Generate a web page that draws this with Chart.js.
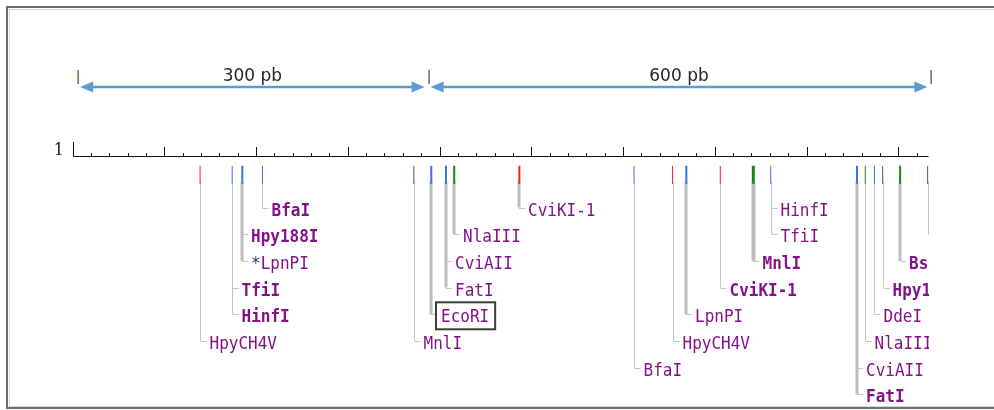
<!DOCTYPE html>
<html>
<head>
<meta charset="utf-8">
<script src="https://cdn.jsdelivr.net/npm/chart.js@4.4.0/dist/chart.umd.min.js"></script>
<style>
  html, body { margin: 0; padding: 0; background: #fff; }
  #wrap { width: 994px; height: 410px; }
</style>
</head>
<body>
<div id="wrap"><canvas id="map" width="994" height="410"></canvas></div>
<script>
// sequence / ruler (bp)
var seqLength = 933;
var minorStep = 20;
var majorStep = 100;

// size brackets above the ruler
var dimStops = [5, 387, 935];
var dimLabels = ['300 pb', '600 pb'];

// restriction sites
var sitePos   = [139, 174, 185, 207, 372, 391, 407, 416, 487, 612, 654, 669, 706, 742, 761, 855, 864, 874, 883, 902, 932];
var siteColor = ['r', 'b', 'b', 'b', 'g', 'b', 'b', 'g', 'r', 'b', 'r', 'b', 'r', 'g', 'b', 'b', 'g', 'b', 'g', 'g', 'g'];
var siteWidth = [1, 1, 2, 1, 1, 2, 2, 2, 2, 1, 1, 2, 1, 3, 1, 2, 1, 1, 1, 2, 1];
var siteEnzymes = [
  ['HpyCH4V'], ['TfiI', 'HinfI'], ['Hpy188I', '*LpnPI'], ['BfaI'],
  ['MnlI'], ['EcoRI'], ['CviAII', 'FatI'], ['NlaIII'], ['CviKI-1'],
  ['BfaI'], ['HpyCH4V'], ['LpnPI'], ['CviKI-1'], ['MnlI'], ['HinfI', 'TfiI'],
  ['CviAII', 'FatI'], ['NlaIII'], ['DdeI'], ['Hpy188III'], ['BspHI'], ['AluI']
];
var siteRows = [
  [5], [3, 4], [1, 2], [0],
  [5], [4], [2, 3], [1], [0],
  [6], [5], [4], [3], [2], [0, 1],
  [6, 7], [5], [4], [3], [2], [1]
];
var siteBold = [
  [0], [1, 1], [1, 0], [1],
  [0], [0], [0, 0], [0], [0],
  [0], [0], [0], [1], [1], [0, 0],
  [0, 1], [0], [0], [1], [1], [0]
];
var boxedEnzymes = ['EcoRI'];

var colors = { r: '#ff1a1a', b: '#3f6fe6', g: '#12881a' };
var markY = 173, markHalf = 9;
var rowTop = 209, rowGap = 26.7;

var mapPlugin = {
  id: 'mapPlugin',
  beforeDatasetsDraw: function(chart) {
    var ctx = chart.ctx, xs = chart.scales.x;
    var px = function(v) { return xs.getPixelForValue(v); };
    var crisp = function(v) { return Math.round(v) + 0.5; };
    ctx.save();

    // frame
    ctx.strokeStyle = '#d6d6d6'; ctx.lineWidth = 1;
    ctx.strokeRect(9.5, 9.5, 1100, 397);
    ctx.strokeStyle = '#6e6e6e'; ctx.lineWidth = 2;
    ctx.strokeRect(7, 7, 1100, 401);

    // size brackets
    for (var i = 0; i < dimStops.length; i++) {
      var sx = Math.round(px(dimStops[i]));
      ctx.fillStyle = '#d9a521'; ctx.fillRect(sx, 70, 1, 14);
      ctx.fillStyle = '#2f8fd6'; ctx.fillRect(sx + 1, 70, 1, 14);
    }
    ctx.strokeStyle = '#5b9bd5'; ctx.fillStyle = '#5b9bd5'; ctx.lineWidth = 2.5;
    for (var i = 0; i < dimLabels.length; i++) {
      var a = px(dimStops[i]) + 3, b = px(dimStops[i + 1]) - 3, ay = 87;
      ctx.beginPath(); ctx.moveTo(a + 8, ay); ctx.lineTo(b - 8, ay); ctx.stroke();
      ctx.beginPath(); ctx.moveTo(a, ay); ctx.lineTo(a + 13, ay - 5.5); ctx.lineTo(a + 13, ay + 5.5); ctx.closePath(); ctx.fill();
      ctx.beginPath(); ctx.moveTo(b, ay); ctx.lineTo(b - 13, ay - 5.5); ctx.lineTo(b - 13, ay + 5.5); ctx.closePath(); ctx.fill();
    }
    ctx.fillStyle = '#262626'; ctx.font = '17px "DejaVu Sans"'; ctx.textAlign = 'center'; ctx.textBaseline = 'alphabetic';
    for (var i = 0; i < dimLabels.length; i++) {
      ctx.fillText(dimLabels[i], (px(dimStops[i]) + px(dimStops[i + 1])) / 2, 81);
    }

    // ruler
    var rx0 = crisp(px(1)), rx1 = px(seqLength);
    ctx.strokeStyle = '#111'; ctx.lineWidth = 1;
    ctx.beginPath();
    ctx.moveTo(rx0, 142); ctx.lineTo(rx0, 156.5); ctx.lineTo(rx1, 156.5);
    for (var t = minorStep; t < seqLength; t += minorStep) {
      var tx = crisp(px(t));
      ctx.moveTo(tx, t % majorStep === 0 ? 147 : 153); ctx.lineTo(tx, 156);
    }
    ctx.stroke();
    ctx.fillStyle = '#222'; ctx.font = '16px "DejaVu Serif"'; ctx.textAlign = 'right';
    ctx.fillText('1', 64, 155);

    // leaders and enzyme names, clipped at the end of the sequence
    ctx.beginPath(); ctx.rect(0, 160, rx1 + 0.5, 250); ctx.clip();
    ctx.textAlign = 'left'; ctx.textBaseline = 'alphabetic';
    for (var s = 0; s < sitePos.length; s++) {
      var lw = siteWidth[s] > 1 ? siteWidth[s] + 1 : 1;
      var x = siteWidth[s] % 2 ? crisp(px(sitePos[s])) : Math.round(px(sitePos[s]));
      var rows = siteRows[s];
      var deepest = Math.max.apply(null, rows);
      ctx.strokeStyle = lw > 1 ? '#bcbcbc' : '#c4c4c4'; ctx.lineWidth = lw;
      ctx.beginPath();
      ctx.moveTo(x, markY + markHalf); ctx.lineTo(x, rowTop + rowGap * deepest - 1.5);
      ctx.stroke();
      for (var k = 0; k < rows.length; k++) {
        var cy = rowTop + rowGap * rows[k];
        var name = siteEnzymes[s][k];
        var boxed = boxedEnzymes.indexOf(name) >= 0;
        var tx = x + (boxed ? 10 : 9);
        ctx.strokeStyle = '#c4c4c4'; ctx.lineWidth = 1;
        ctx.beginPath(); ctx.moveTo(x, Math.round(cy - 1.5) + 0.5); ctx.lineTo(x + (boxed ? 5 : 6), Math.round(cy - 1.5) + 0.5); ctx.stroke();
        ctx.font = (siteBold[s][k] ? 'bold ' : '') + '16px "DejaVu Sans Mono"';
        var label = name;
        // pixel font is a bit taller than DejaVu, stretch vertically
        ctx.save();
        ctx.translate(0, cy + 6.5);
        ctx.scale(1, 1.1);
        if (label.charAt(0) === '*') {
          ctx.fillStyle = '#33337a'; ctx.fillText('*', tx, 0);
          tx += ctx.measureText('*').width; label = label.slice(1);
        }
        ctx.fillStyle = '#85118a';
        ctx.fillText(label, tx, 0);
        ctx.restore();
        if (boxed) {
          var w = ctx.measureText(label).width;
          ctx.strokeStyle = '#3c3c3c'; ctx.lineWidth = 2;
          ctx.strokeRect(x + 5, cy - 13.5, w + 11, 27);
        }
      }
    }
    ctx.restore();
  }
};

new Chart(document.getElementById('map'), {
  type: 'scatter',
  data: {
    datasets: [{
      data: sitePos.map(function(p) { return { x: p, y: markY }; }),
      pointStyle: 'line',
      rotation: 90,
      radius: markHalf,
      hoverRadius: markHalf,
      borderColor: siteColor.map(function(c) { return colors[c]; }),
      borderWidth: siteWidth,
      hoverBorderWidth: siteWidth
    }]
  },
  options: {
    responsive: false,
    animation: false,
    events: [],
    layout: { padding: { left: 72.55, right: 62.7, top: 0, bottom: 0 } },
    scales: {
      x: { type: 'linear', min: 0, max: 936, display: false },
      y: { type: 'linear', min: 0, max: 410, reverse: true, display: false }
    },
    plugins: { legend: { display: false }, tooltip: { enabled: false } }
  },
  plugins: [mapPlugin]
});
</script>
</body>
</html>
